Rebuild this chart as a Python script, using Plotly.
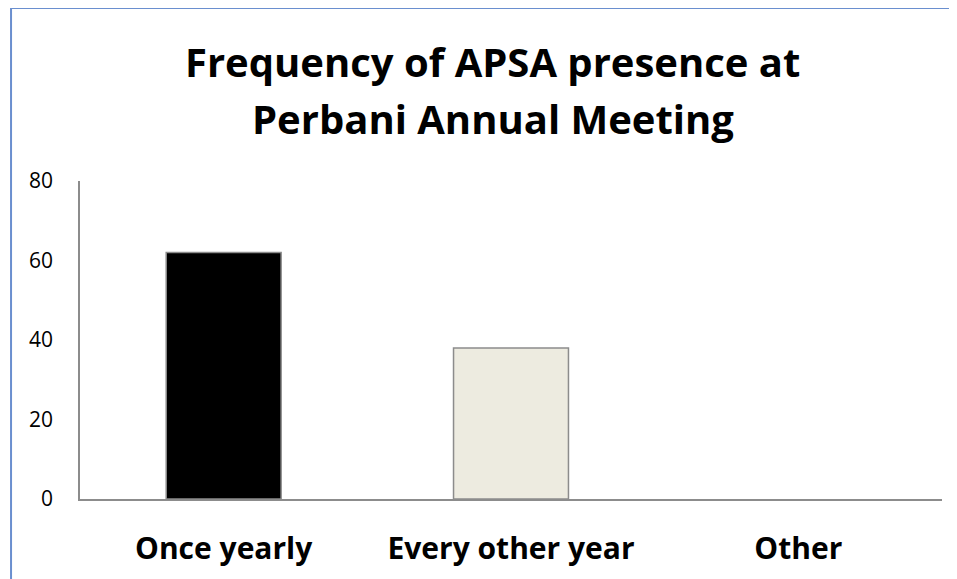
import plotly.graph_objects as go

categories = ['Once yearly', 'Every other year', 'Other']
values = [62, 38, 0]
bar_colors = ['#000000', '#EDEBE0', '#FFFFFF']
bar_edges = ['#8C8C8C', '#8C8C8C', 'rgba(0,0,0,0)']
title_lines = ['Frequency of APSA presence at', 'Perbani Annual Meeting']

FONT = 'Open Sans, Liberation Sans, sans-serif'

fig = go.Figure()
fig.add_trace(go.Bar(
    x=categories,
    y=values,
    marker=dict(color=bar_colors, line=dict(color=bar_edges, width=1.5)),
    width=0.4,
    showlegend=False,
))

fig.update_layout(
    width=957,
    height=579,
    paper_bgcolor='white',
    plot_bgcolor='white',
    margin=dict(l=72, r=23, t=173, b=88),
    font=dict(family=FONT, color='black', size=21),
    bargap=0.6,
)

# two-line title, placed line by line to get Office-like line spacing
for text, ypos in zip(title_lines, [1.377, 1.195]):
    fig.add_annotation(
        text='<b>' + text + '</b>',
        xref='paper', yref='paper',
        x=0.479, y=ypos,
        xanchor='center', yanchor='middle',
        showarrow=False,
        font=dict(size=40, family=FONT, color='black'),
    )

fig.update_yaxes(
    range=[0, 80],
    tickvals=[0, 20, 40, 60, 80],
    showgrid=False,
    zeroline=False,
    showline=True,
    linecolor='#8C8C8C',
    linewidth=1.5,
    ticks='outside',
    ticklen=0,
    ticklabelstandoff=21,
    tickfont=dict(size=21),
)
fig.update_xaxes(
    showgrid=False,
    showline=True,
    linecolor='#8C8C8C',
    linewidth=1.5,
    ticks='outside',
    ticklen=0,
    ticklabelstandoff=22,
    tickfont=dict(size=30, family=FONT),
    tickprefix='<b>',
    ticksuffix='</b>',
)

# outer chart border
fig.add_shape(
    type='rect', xref='paper', yref='paper',
    x0=-0.08, x1=1.1, y0=-0.6, y1=1.544,
    line=dict(color='#6A8FCF', width=2),
    fillcolor='rgba(0,0,0,0)',
    layer='below',
)

fig.write_html('out.html')
